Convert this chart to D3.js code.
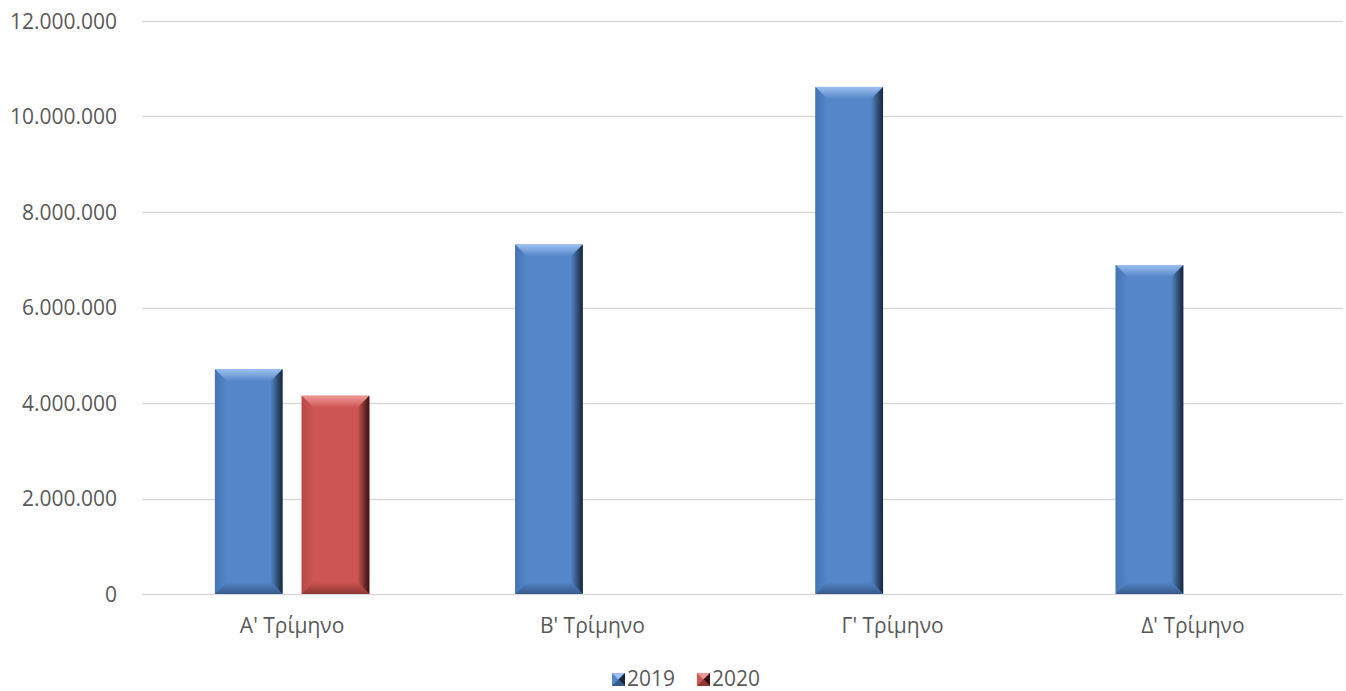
<!DOCTYPE html>
<html>
<head>
<meta charset="utf-8">
<script src="https://cdn.jsdelivr.net/npm/d3@7"></script>
<style>
  body { margin: 0; background: #fff; }
  text { font-family: "Open Sans", "Noto Sans", sans-serif; fill: #595959; }
</style>
</head>
<body>
<svg id="chart" width="1346" height="691"></svg>
<script>
'use strict';
const categories = ["Α' Τρίμηνο", "Β' Τρίμηνο", "Γ' Τρίμηνο", "Δ' Τρίμηνο"];
const seriesNames = ["2019", "2020"];
const values2019 = [4706000, 7320000, 10620000, 6890000];
const values2020 = [4153000, null, null, null];
const yTicks = [0, 2000000, 4000000, 6000000, 8000000, 10000000, 12000000];

const colors = {
    "2019": { main: "#5486c9", top: "#9cc0f0", left: "#4574b4", right: "#172638", bottom: "#36598a" },
    "2020": { main: "#cd5553", top: "#f09a97", left: "#b84846", right: "#361111", bottom: "#8c3634" }
};

let locale = d3.formatLocale({ decimal: ",", thousands: ".", grouping: [3], currency: ["", "€"] });
let fmt = locale.format(",");

let svg = d3.select("#chart");
let margin = { left: 142, right: 3, top: 21, bottom: 97 };
let W = 1346, H = 691;

let x0 = d3.scaleBand().domain(categories).range([margin.left, W - margin.right]).paddingInner(0).paddingOuter(0);
let x1 = d3.scaleBand().domain(seriesNames).range([0, x0.bandwidth()]).paddingInner(0.221).paddingOuter(0.84);
let y = d3.scaleLinear().domain([0, 12000000]).range([H - margin.bottom, margin.top]);

// gradients for the bevel
let defs = svg.append("defs");
let addGrad = (id, horiz, c1, c2) => {
    let g = defs.append("linearGradient").attr("id", id)
        .attr("x1", 0).attr("y1", 0).attr("x2", horiz ? 1 : 0).attr("y2", horiz ? 0 : 1);
    g.append("stop").attr("offset", "0%").attr("stop-color", c1);
    g.append("stop").attr("offset", "100%").attr("stop-color", c2);
};
seriesNames.forEach(s => {
    let c = colors[s];
    addGrad("top" + s, false, c.top, c.main);
    addGrad("left" + s, true, c.left, c.main);
    addGrad("right" + s, true, c.main, c.right);
    addGrad("bottom" + s, false, c.main, c.bottom);
});

// gridlines
svg.append("g").selectAll("line").data(yTicks).enter().append("line")
    .attr("x1", margin.left).attr("x2", W - margin.right)
    .attr("y1", d => Math.round(y(d)) + 0.5).attr("y2", d => Math.round(y(d)) + 0.5)
    .attr("stroke", "#d9d9d9").attr("stroke-width", 1.3);

// y labels
svg.append("g").selectAll("text").data(yTicks).enter().append("text")
    .attr("x", 117).attr("y", d => y(d)).attr("dy", "0.36em")
    .attr("text-anchor", "end").style("font-size", "21px")
    .text(d => fmt(d));

// x labels
svg.append("g").selectAll("text").data(categories).enter().append("text")
    .attr("x", d => x0(d) + x0.bandwidth() / 2).attr("y", 633)
    .attr("text-anchor", "middle").style("font-size", "21px")
    .text(d => d);

let rows = [];
for (let i = 0; i < categories.length; i++) {
    rows.push({ cat: categories[i], s: "2019", v: values2019[i] });
    if (values2020[i] != null) rows.push({ cat: categories[i], s: "2020", v: values2020[i] });
}

let drawBevelBar = (g, x, yTop, w, h, s) => {
    let b = Math.min(12, h / 2);
    let x2 = x + w, y2 = yTop + h;
    g.append("rect").attr("x", x).attr("y", yTop).attr("width", w).attr("height", h).attr("fill", colors[s].main);
    g.append("polygon").attr("points", [[x, yTop], [x2, yTop], [x2 - b, yTop + b], [x + b, yTop + b]].join(" ")).attr("fill", "url(#top" + s + ")");
    g.append("polygon").attr("points", [[x, yTop], [x + b, yTop + b], [x + b, y2 - b], [x, y2]].join(" ")).attr("fill", "url(#left" + s + ")");
    g.append("polygon").attr("points", [[x2, yTop], [x2, y2], [x2 - b, y2 - b], [x2 - b, yTop + b]].join(" ")).attr("fill", "url(#right" + s + ")");
    g.append("polygon").attr("points", [[x, y2], [x + b, y2 - b], [x2 - b, y2 - b], [x2, y2]].join(" ")).attr("fill", "url(#bottom" + s + ")");
};

let bars = svg.append("g");
rows.forEach(r => {
    let g = bars.append("g");
    let bx = x0(r.cat) + x1(r.s);
    drawBevelBar(g, bx, y(r.v), x1.bandwidth(), y(0) - y(r.v), r.s);
});

// legend
let legend = svg.append("g");
let legendX = [612, 697];
seriesNames.forEach((s, i) => {
    let lg = legend.append("g");
    let c = colors[s];
    let lx = legendX[i], ly = 673, sz = 13;
    lg.append("rect").attr("x", lx).attr("y", ly).attr("width", sz).attr("height", sz).attr("fill", c.main);
    lg.append("polygon").attr("points", [[lx, ly], [lx + sz, ly], [lx + sz / 2, ly + sz / 2]].join(" ")).attr("fill", c.top);
    lg.append("polygon").attr("points", [[lx + sz, ly], [lx + sz, ly + sz], [lx + sz / 2, ly + sz / 2]].join(" ")).attr("fill", c.right);
    lg.append("polygon").attr("points", [[lx, ly + sz], [lx + sz, ly + sz], [lx + sz / 2, ly + sz / 2]].join(" ")).attr("fill", c.bottom);
    lg.append("text").attr("x", lx + 15).attr("y", 686)
        .style("font-size", "21px").text(s);
});
</script>
</body>
</html>
